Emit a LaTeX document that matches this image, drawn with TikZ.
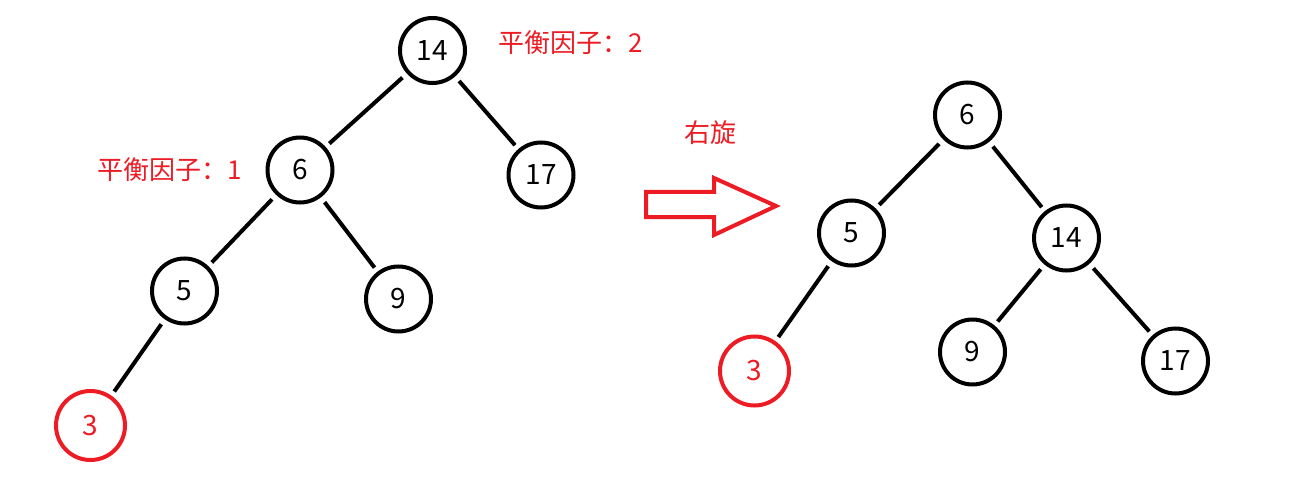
\documentclass[tikz,border=0pt]{standalone}
\usepackage{fontspec}
\setmainfont{Noto Sans CJK SC}
\usepackage{tikz}
\definecolor{rotred}{RGB}{237,28,36}

\begin{document}
\begin{tikzpicture}[x=1pt, y=-1pt,
        vert/.style={circle, draw=black, line width=4pt, minimum size=65pt,
            inner sep=0pt, font=\fontsize{28}{28}\selectfont},
        newvert/.style={vert, draw=rotred, text=rotred, minimum size=69pt},
        edge/.style={line width=4pt, shorten <=6pt, shorten >=5pt},
        note/.style={text=rotred, font=\fontsize{26}{26}\selectfont}]
                \useasboundingbox (0,0) rectangle (1292,481);
                % before the rotation
                \node[vert] (L14) at (432.5,50.5) {14};
                \node[vert] (L6) at (300,170) {6};
                \node[vert] (L17) at (541,175) {17};
                \node[vert] (L5) at (184.5,291) {5};
                \node[vert] (L9) at (398.5,299) {9};
                \node[newvert] (L3) at (90.5,425.5) {3};
                \draw[edge] (L14) -- (L6);
                \draw[edge] (L14) -- (L17);
                \draw[edge] (L6) -- (L5);
                \draw[edge] (L6) -- (L9);
                \draw[edge] (L5) -- (L3);
                \node[note] (bf2) at (571,43) {平衡因子：2};
                \node[note] (bf1) at (170,170) {平衡因子：1};
                % rotation arrow
                \node[note] (rot) at (710,133) {右旋};
                \draw[rotred, line width=4pt, line join=miter]
                    (646,192) -- (714,192) -- (714,178) -- (776,206)
                    -- (714,235) -- (714,217) -- (646,217) -- cycle;
                % after the rotation
                \node[vert] (R6) at (967.5,115) {6};
                \node[vert] (R5) at (851.5,233) {5};
                \node[vert] (R14) at (1066.5,238) {14};
                \node[newvert] (R3) at (754.5,371) {3};
                \node[vert] (R9) at (972.5,352) {9};
                \node[vert] (R17) at (1175.5,361) {17};
                \draw[edge] (R6) -- (R5);
                \draw[edge] (R6) -- (R14);
                \draw[edge] (R5) -- (R3);
                \draw[edge] (R14) -- (R9);
                \draw[edge] (R14) -- (R17);
\end{tikzpicture}
\end{document}
